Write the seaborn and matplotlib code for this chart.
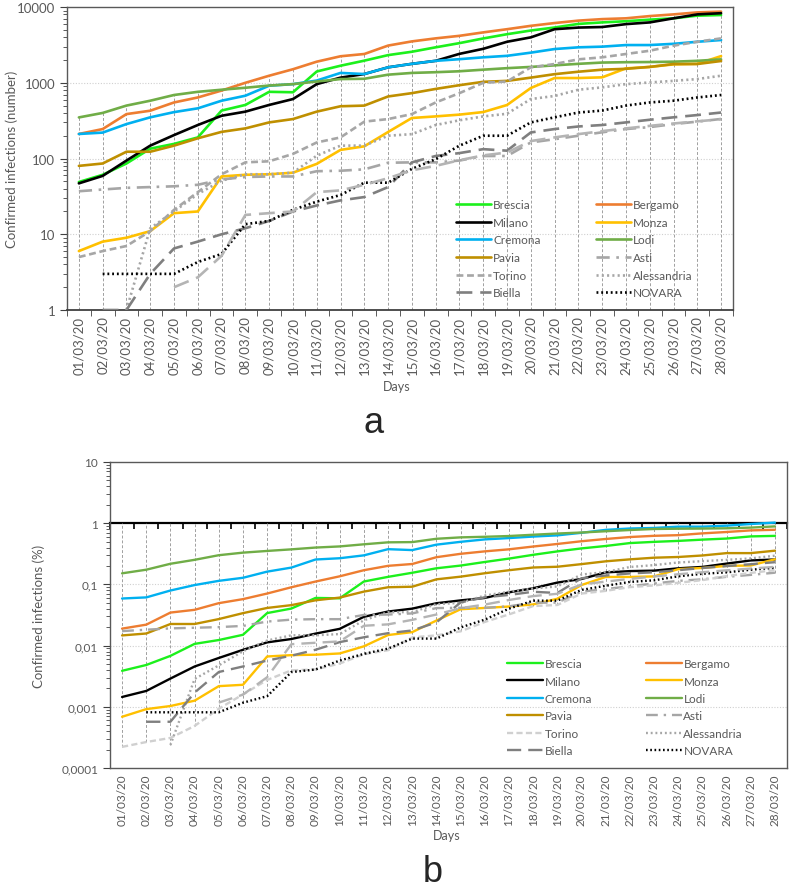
import numpy as np
import pandas as pd
import seaborn as sns
import matplotlib.pyplot as plt
from matplotlib.ticker import FixedLocator, LogLocator, NullFormatter, FuncFormatter

# days on the x axis
days = [f"{d:02d}/03/20" for d in range(1, 29)]

# confirmed infections (number)
nan = np.nan
brescia = [49, 61, 86, 135, 156, 190, 430, 510, 760, 750, 1410, 1680, 1960, 2320, 2570, 2940, 3340, 3850, 4380, 4900, 5370, 5990, 6270, 6500, 6820, 7100, 7700, 7850]
bergamo = [211, 245, 386, 428, 550, 640, 790, 1000, 1240, 1510, 1900, 2240, 2400, 3100, 3520, 3860, 4170, 4630, 5100, 5650, 6150, 6620, 6930, 7100, 7600, 8000, 8500, 8700]
milano = [47, 59, 94, 148, 204, 277, 367, 416, 510, 610, 960, 1170, 1305, 1600, 1780, 1950, 2410, 2810, 3480, 3980, 5100, 5360, 5450, 5950, 6270, 7100, 8000, 8300]
monza = [6, 8, 9, 11, 19, 20, 58, 61, 62, 65, 85, 130, 145, 224, 343, 360, 380, 411, 509, 853, 1156, 1156, 1180, 1550, 1620, 1750, 1780, 2250]
cremona = [211, 220, 285, 350, 410, 460, 580, 675, 915, 960, 1070, 1350, 1305, 1600, 1780, 1950, 2050, 2170, 2270, 2500, 2790, 2940, 3000, 3150, 3150, 3270, 3480, 3670]
lodi = [349, 400, 500, 580, 690, 760, 810, 860, 920, 960, 1040, 1120, 1130, 1280, 1350, 1380, 1420, 1490, 1560, 1620, 1700, 1780, 1850, 1870, 1880, 1900, 1950, 2040]
pavia = [80, 86, 123, 123, 148, 185, 225, 250, 300, 332, 416, 490, 500, 660, 730, 830, 930, 1030, 1060, 1170, 1300, 1400, 1490, 1530, 1620, 1770, 1770, 1940]
asti = [37, 39, 41, 42, 43, 45, 53, 57, 58, 58, 68, 69, 72, 88, 89, 89, 94, 108, 108, 163, 180, 200, 222, 245, 260, 285, 307, 333]
torino = [5, 6, 7, 11, 21, 36, 62, 89, 92, 115, 163, 190, 307, 332, 386, 550, 730, 1000, 1040, 1600, 1770, 2040, 2170, 2400, 2650, 3090, 3480, 3860]
alessandria = [nan, nan, 1, 12, 20, 34, 51, 62, 62, 65, 109, 148, 148, 200, 210, 277, 320, 360, 390, 610, 670, 810, 870, 960, 1010, 1060, 1120, 1240]
biella = [nan, 1, 1, 3, 6.5, 8, 10, 12, 15, 20, 24, 28, 31, 42, 89, 108, 118, 133, 127, 221, 245, 265, 277, 300, 325, 350, 375, 405]
novara = [nan, 3, 3, 3, 3, 4.3, 5.5, 13.6, 15, 21, 27, 33, 48, 48, 73, 98, 148, 200, 200, 300, 350, 405, 430, 500, 550, 580, 640, 690]
vercelli = [nan, nan, nan, nan, 2, 2.7, 5.2, 18, 19, 20, 36, 38, 45, 55, 70, 80, 95, 110, 120, 170, 190, 210, 230, 250, 270, 290, 310, 330]

# inhabitants, used for panel b (% of population)
population = {'Brescia': 1265954, 'Bergamo': 1114590, 'Milano': 3250315, 'Monza': 873935,
              'Cremona': 358955, 'Lodi': 230198, 'Pavia': 545888, 'Asti': 214638,
              'Torino': 2259523, 'Alessandria': 421284, 'Biella': 175585, 'NOVARA': 369018,
              'Vercelli': 170911}

series = {'Brescia': brescia, 'Bergamo': bergamo, 'Milano': milano, 'Monza': monza,
          'Cremona': cremona, 'Lodi': lodi, 'Pavia': pavia, 'Asti': asti, 'Torino': torino,
          'Alessandria': alessandria, 'Biella': biella, 'NOVARA': novara, 'Vercelli': vercelli}

# colour, dash pattern (None = solid)
look = {'Brescia': ('#1cf01c', None), 'Bergamo': ('#ed7d31', None), 'Milano': ('#000000', None),
        'Monza': ('#ffc000', None), 'Cremona': ('#00b0f0', None), 'Lodi': ('#70ad47', None),
        'Pavia': ('#bf8f00', None), 'Asti': ('#a6a6a6', (5, 2.5, 1, 2.5)),
        'Torino': ('#a6a6a6', (2.6, 1.4)), 'Alessandria': ('#a6a6a6', (0.8, 1.2)),
        'Biella': ('#7f7f7f', (6, 3)), 'NOVARA': ('#000000', (0.7, 1.1)),
        'Vercelli': ('#b4b4b4', (6, 3))}
look_b = dict(look, Torino=('#d0d0d0', (2.6, 1.4)))

legend_order = ['Brescia', 'Milano', 'Cremona', 'Pavia', 'Torino', 'Biella',
                'Bergamo', 'Monza', 'Lodi', 'Asti', 'Alessandria', 'NOVARA']

rows = []
for name, vals in series.items():
    for i, v in enumerate(vals):
        rows.append({'province': name, 'day': i, 'number': v,
                     'percent': v / population[name] * 100})
df = pd.DataFrame(rows)

sns.set_style('white')
plt.rcParams['font.family'] = ['Lato', 'DejaVu Sans']
grey_txt = '#595959'

fig = plt.figure(figsize=(7.89, 8.95), dpi=100)
ax_a = fig.add_axes([0.0849, 0.6525, 0.8441, 0.3385])
ax_b = fig.add_axes([0.1394, 0.1408, 0.8581, 0.3419])


def draw_lines(ax, col, styles, lw):
    handles = {}
    for name in series:
        color, dash = styles[name]
        sub = df[df['province'] == name].dropna()
        sns.lineplot(data=sub, x='day', y=col, ax=ax, color=color, lw=lw,
                     errorbar=None, legend=False, zorder=3)
        ln = ax.lines[-1]
        if dash is not None:
            ln.set_dashes(dash)
            ln.set_dash_capstyle('butt')
        handles[name] = ln
    return handles


def style_axes(ax, ylabel, fmt, tick_size, xtick_size):
    ax.set_yscale('log')
    ax.set_xlim(-0.5, 27.5)
    for s in ax.spines.values():
        s.set_visible(True)
        s.set_color('#595959')
        s.set_linewidth(1.0)
    ax.yaxis.set_major_locator(LogLocator(base=10))
    ax.yaxis.set_minor_locator(LogLocator(base=10, subs=np.arange(2, 10)))
    ax.yaxis.set_minor_formatter(NullFormatter())
    ax.yaxis.set_major_formatter(FuncFormatter(fmt))
    ax.tick_params(axis='y', which='major', left=True, length=5, color='#404040',
                   labelsize=tick_size, labelcolor=grey_txt)
    ax.tick_params(axis='y', which='minor', left=True, length=3, color='#404040')
    ax.set_xticks(range(len(days)))
    ax.set_xticklabels(days, rotation=90)
    ax.tick_params(axis='x', which='major', length=0, labelsize=xtick_size,
                   labelcolor=grey_txt, pad=4)
    ax.grid(False)
    ax.set_ylabel(ylabel, color=grey_txt, fontsize=9.5)
    ax.set_xlabel('Days', color=grey_txt, fontsize=9)


# ---------- panel a ----------
ha = draw_lines(ax_a, 'number', look, 1.9)
style_axes(ax_a, 'Confirmed infections (number)', lambda v, p: f'{v:g}', 9.5, 9.5)
ax_a.set_ylim(1, 10000)
for v in [10, 100, 1000]:
    ax_a.axhline(v, color='#d0d0d0', lw=0.8, ls=(0, (1, 1.5)), zorder=1)
num = np.array([series[n] for n in series], dtype=float)
ax_a.vlines(range(len(days)), 1, np.nanmax(num, axis=0), colors='#a0a0a0',
            linestyles=(0, (3, 2)), lw=0.7, zorder=1)
ax_a.xaxis.set_minor_locator(FixedLocator(np.arange(-0.5, 28, 1)))
ax_a.tick_params(axis='x', which='minor', bottom=True, length=4, color='#404040')
ax_a.spines['bottom'].set_color('#404040')
ax_a.spines['bottom'].set_linewidth(1.3)
ax_a.yaxis.set_label_coords(-0.074, 0.5)
ax_a.xaxis.set_label_coords(0.495, -0.232)
ax_a.legend([ha[n] for n in legend_order], legend_order, ncol=2, frameon=False,
            loc='upper left', bbox_to_anchor=(0.575, 0.385), fontsize=8.5,
            handlelength=3.0, handletextpad=0.15, columnspacing=4.7,
            labelspacing=0.56, borderpad=0, labelcolor=grey_txt)

# ---------- panel b ----------
hb = draw_lines(ax_b, 'percent', look_b, 1.7)
style_axes(ax_b, 'Confirmed infections (%)',
           lambda v, p: f'{v:g}'.replace('.', ','), 8.5, 8.5)
ax_b.set_ylim(0.0001, 10)
for v in [0.001, 0.01, 0.1]:
    ax_b.axhline(v, color='#d0d0d0', lw=0.8, ls=(0, (1, 1.5)), zorder=1)
pct = np.array([np.array(series[n], dtype=float) / population[n] * 100 for n in series])
ax_b.vlines(range(len(days)), np.nanmin(pct, axis=0), 1, colors='#a0a0a0',
            linestyles=(0, (3, 2)), lw=0.7, zorder=1)
# category axis crossing at 1 %
sec = ax_b.secondary_xaxis(0.8)
sec.set_xticks(np.arange(-0.5, 28, 1))
sec.tick_params(axis='x', direction='in', length=4, color='black', width=1.2,
                labeltop=False, labelbottom=False)
for s in sec.spines.values():
    s.set_color('black')
    s.set_linewidth(1.6)
ax_b.yaxis.set_label_coords(-0.096, 0.5)
ax_b.xaxis.set_label_coords(0.498, -0.2)
ax_b.legend([hb[n] for n in legend_order], legend_order, ncol=2, frameon=False,
            loc='upper left', bbox_to_anchor=(0.578, 0.378), fontsize=8.5,
            handlelength=3.0, handletextpad=0.15, columnspacing=4.6,
            labelspacing=0.54, borderpad=0, labelcolor=grey_txt)

fig.text(0.473, 0.527, 'a', fontsize=26, ha='center', va='center',
         family=['Liberation Sans', 'DejaVu Sans'])
fig.text(0.548, 0.025, 'b', fontsize=26, ha='center', va='center',
         family=['Liberation Sans', 'DejaVu Sans'])

fig.savefig('out.png', dpi=100)
